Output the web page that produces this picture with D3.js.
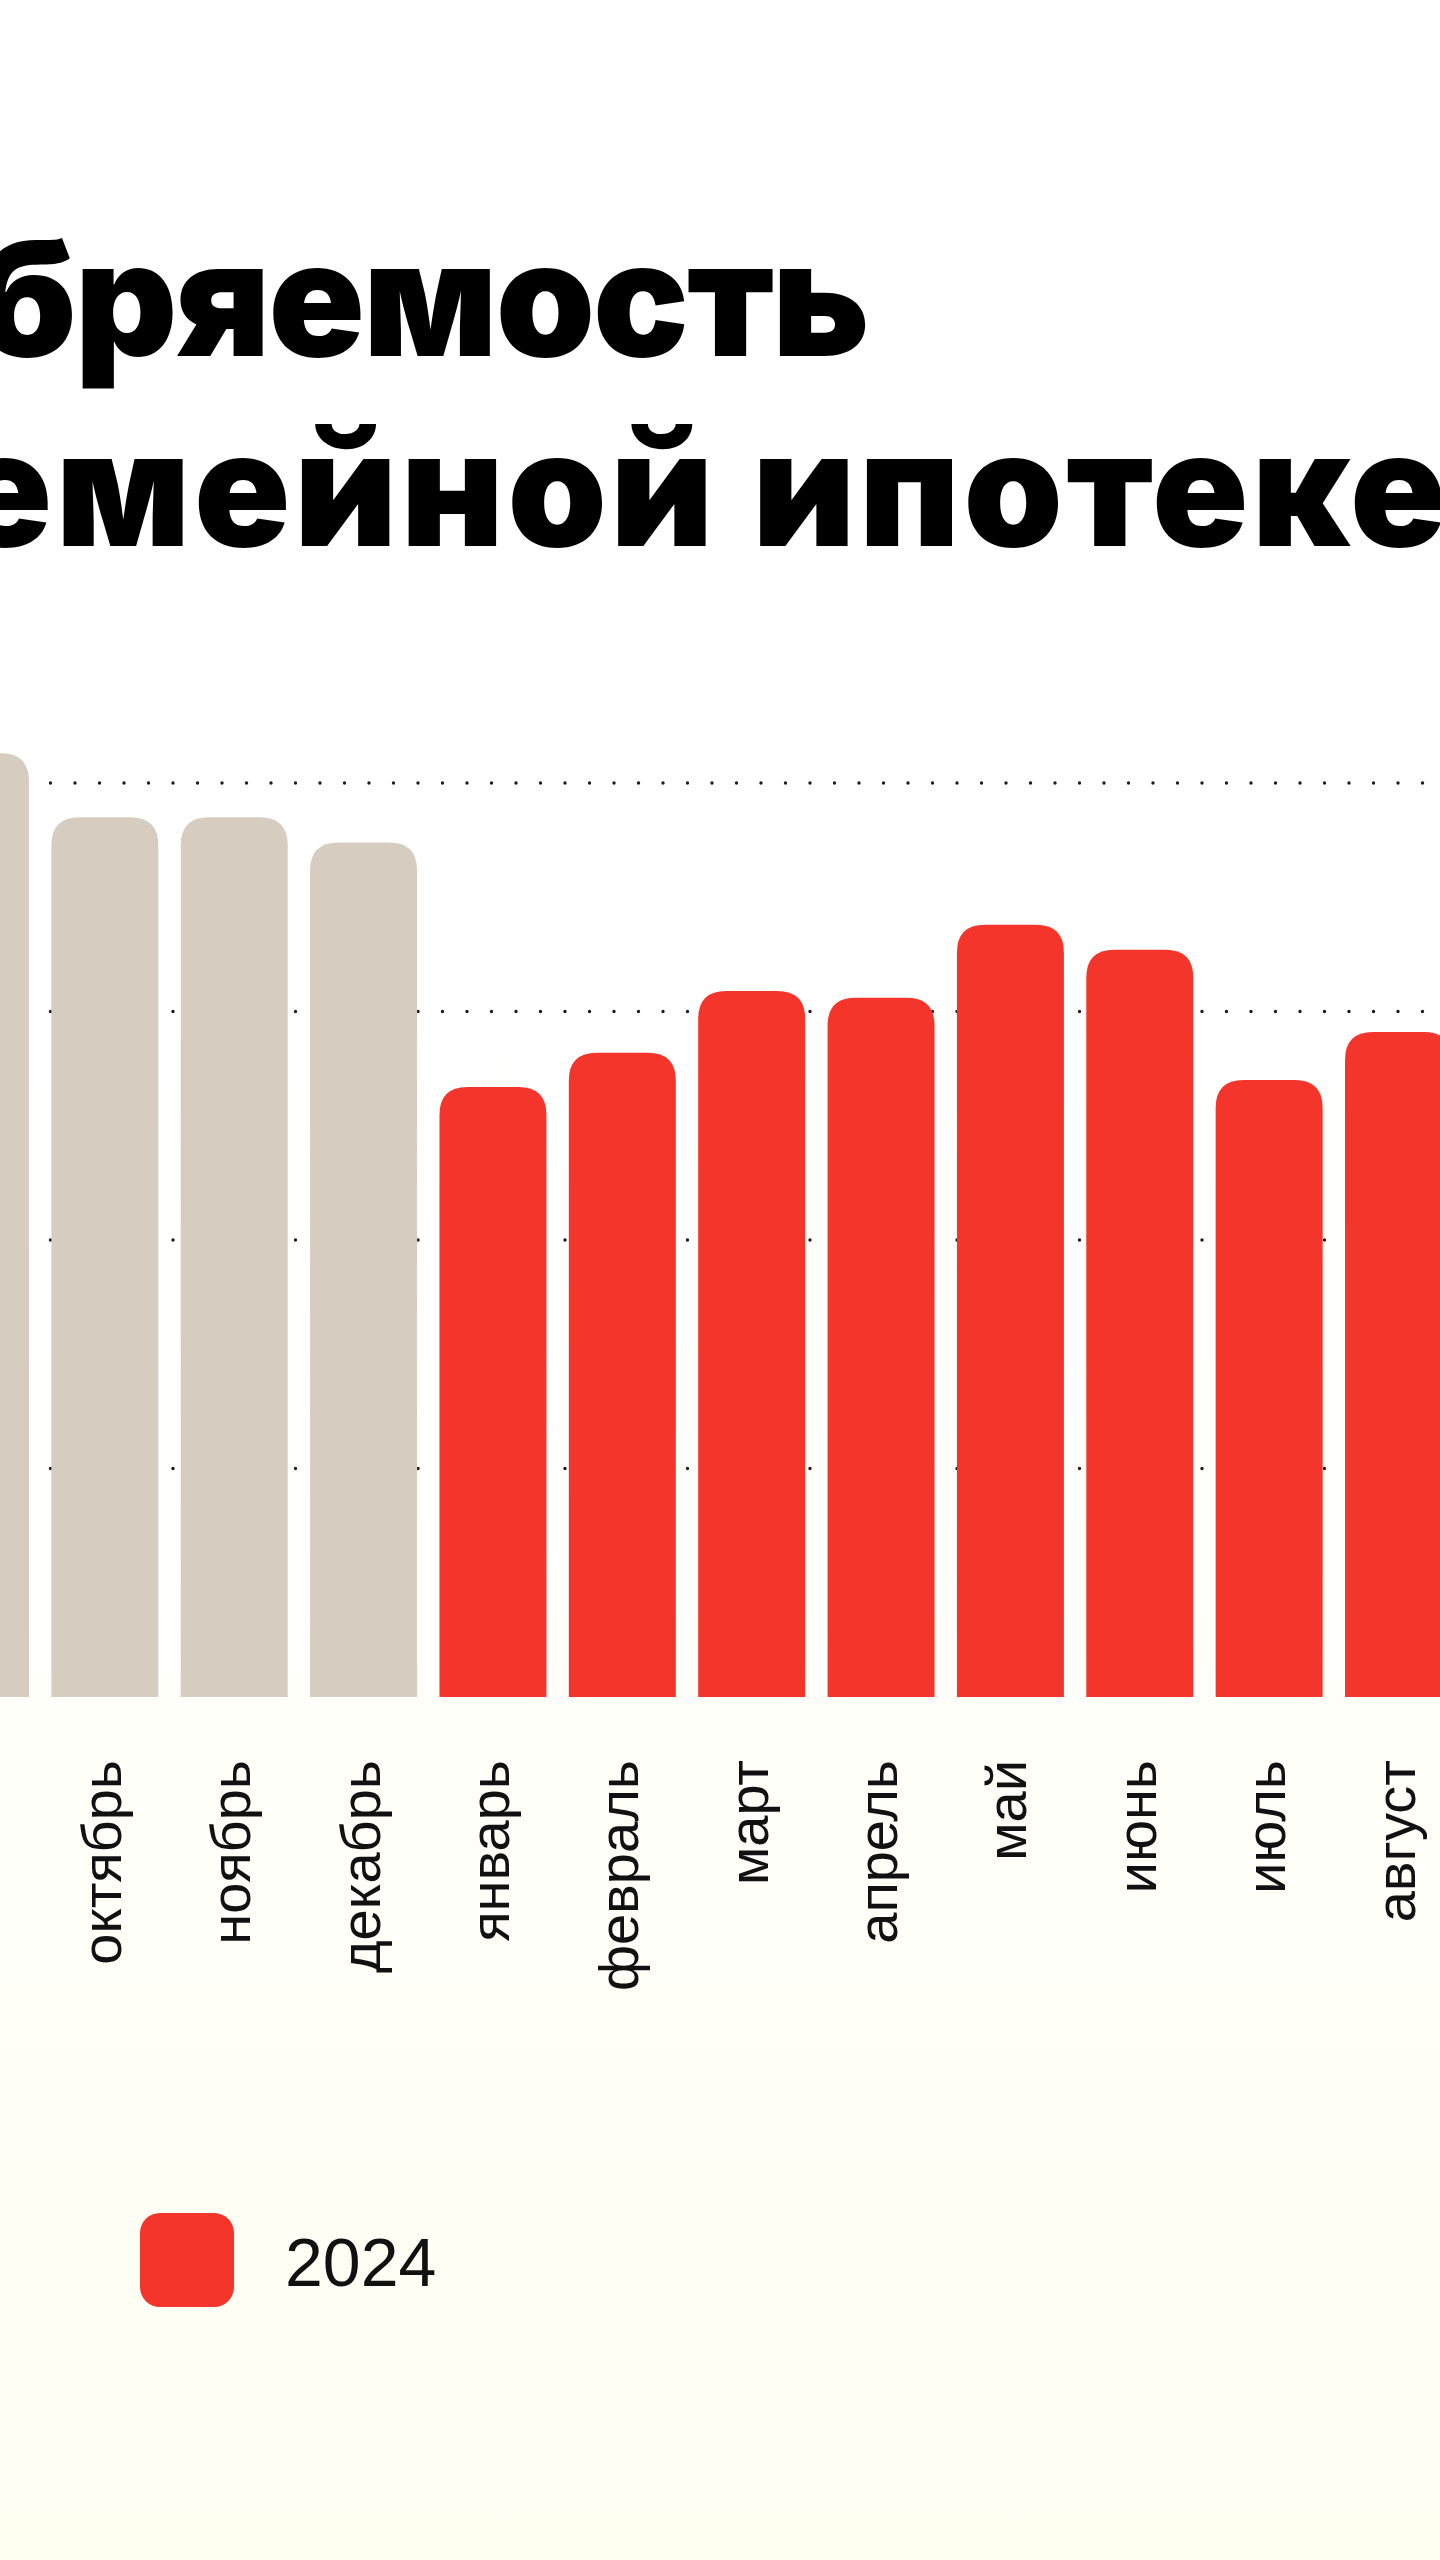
<!DOCTYPE html>
<html>
<head>
<meta charset="utf-8">
<script src="https://cdn.jsdelivr.net/npm/d3@7"></script>
<style>
  html, body { margin: 0; padding: 0; background: #ffffff; }
  svg { display: block; }
</style>
</head>
<body>
<script>
// ---- data ----
const months = ["сентябрь","октябрь","ноябрь","декабрь","январь","февраль","март","апрель","май","июнь","июль","август"];
const years  = ["2023","2023","2023","2023","2024","2024","2024","2024","2024","2024","2024","2024"];
const values = [41.3, 38.5, 38.5, 37.4, 26.7, 28.2, 30.9, 30.6, 33.8, 32.7, 27.0, 29.1];
const gridValues = [10, 20, 30, 40];
const titleLines = ["Одобряемость", "по семейной ипотеке"];
const legendItems = ["2024"];

const W = 1440, H = 2560;
const colors = { "2023": "#d7ccc0", "2024": "#f4352b" };

const svg = d3.select("body").append("svg").attr("width", W).attr("height", H);

// background gradient
const defs = svg.append("defs");
const grad = defs.append("linearGradient").attr("id", "bg").attr("x1", 0).attr("y1", 0).attr("x2", 0).attr("y2", 1);
grad.append("stop").attr("offset", "0%").attr("stop-color", "#ffffff");
grad.append("stop").attr("offset", "40%").attr("stop-color", "#ffffff");
grad.append("stop").attr("offset", "75%").attr("stop-color", "#fffef8");
grad.append("stop").attr("offset", "100%").attr("stop-color", "#fffef1");
svg.append("rect").attr("width", W).attr("height", H).attr("fill", "url(#bg)");

// scales
const x = d3.scaleBand().domain(months).range([-78, 1452]).paddingInner(0.173).paddingOuter(0);
const y = d3.scaleLinear().domain([0, 40]).range([1697, 783]);

// title
const title = svg.append("g").attr("font-family", "Inter, 'DejaVu Sans', sans-serif").attr("font-weight", 900).attr("fill", "#000");
title.append("text").attr("x", 868).attr("y", 356).attr("text-anchor", "end").attr("font-size", 159).attr("letter-spacing", -2).text(titleLines[0]);
title.append("text").attr("x", 1450).attr("y", 546).attr("text-anchor", "end").attr("font-size", 159).attr("letter-spacing", 3.5).text(titleLines[1]);

// dotted gridlines
svg.append("g").selectAll("line").data(gridValues).join("line")
  .attr("x1", -23).attr("x2", W + 10)
  .attr("y1", d => y(d)).attr("y2", d => y(d))
  .attr("stroke", "#1c1c1c").attr("stroke-width", 3.4)
  .attr("stroke-linecap", "round").attr("stroke-dasharray", "0 24.5");

// bars with rounded top corners
function barPath(x0, w, yTop, yBase, r) {
  const h = yBase - yTop;
  r = Math.min(r, w / 2, h);
  return `M${x0},${yBase}V${yTop + r}Q${x0},${yTop} ${x0 + r},${yTop}H${x0 + w - r}Q${x0 + w},${yTop} ${x0 + w},${yTop + r}V${yBase}Z`;
}
const data = months.map((m, i) => ({ m, v: values[i], yr: years[i] }));
svg.append("g").selectAll("path").data(data).join("path")
  .attr("d", d => barPath(x(d.m), x.bandwidth(), y(d.v), y(0), 28))
  .attr("fill", d => colors[d.yr]);

// month labels (only for bars whose centre lies inside the picture)
svg.append("g").selectAll("text").data(data.filter(d => x(d.m) + x.bandwidth() / 2 > 0)).join("text")
  .attr("transform", d => `translate(${x(d.m) + x.bandwidth() / 2 + 16},1760) rotate(-90)`)
  .attr("text-anchor", "end")
  .attr("font-family", "'Liberation Sans', Arial, sans-serif")
  .attr("font-size", 56)
  .attr("fill", "#111")
  .text(d => d.m);

// legend
const lg = svg.append("g");
legendItems.forEach((yr, i) => {
  lg.append("rect").attr("x", 140).attr("y", 2213).attr("width", 94).attr("height", 94).attr("rx", 20).attr("fill", colors[yr]);
  lg.append("text").attr("x", 285).attr("y", 2286)
    .attr("font-family", "'Liberation Sans', Arial, sans-serif").attr("font-size", 68).attr("fill", "#111").text(yr);
});
</script>
</body>
</html>
